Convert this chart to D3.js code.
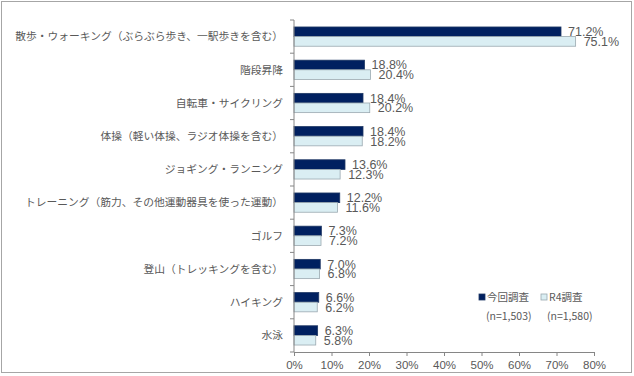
<!DOCTYPE html>
<html>
<head>
<meta charset="utf-8">
<script src="https://d3js.org/d3.v7.min.js"></script>
<style>
  body { margin: 0; background: #fff; }
  text { font-family: "Noto Sans CJK JP", sans-serif; fill: #595959; }
</style>
</head>
<body>
<div id="chart"></div>
<script>
// categories and values (%)
const categories = [
  "散歩・ウォーキング（ぶらぶら歩き、一駅歩きを含む）",
  "階段昇降",
  "自転車・サイクリング",
  "体操（軽い体操、ラジオ体操を含む）",
  "ジョギング・ランニング",
  "トレーニング（筋力、その他運動器具を使った運動）",
  "ゴルフ",
  "登山（トレッキングを含む）",
  "ハイキング",
  "水泳"
];
const current = [71.2, 18.8, 18.4, 18.4, 13.6, 12.2, 7.3, 7.0, 6.6, 6.3];
const r4 = [75.1, 20.4, 20.2, 18.2, 12.3, 11.6, 7.2, 6.8, 6.2, 5.8];
const series = ["今回調査", "R4調査"];
const sampleSizes = ["(n=1,503)", "(n=1,580)"];
const xTicks = [0, 10, 20, 30, 40, 50, 60, 70, 80];

const W = 634, H = 376;
const plotL = 294, plotR = 594, plotT = 20, plotB = 352;
const colors = ["#002060", "#DAEEF3"];

const svg = d3.select("#chart").append("svg")
  .attr("width", W).attr("height", H);

// outer frame
svg.append("rect")
  .attr("x", 1.5).attr("y", 1.5)
  .attr("width", 630).attr("height", 371)
  .attr("fill", "#fff").attr("stroke", "#a6a6a6").attr("stroke-width", 1);

const x = d3.scaleLinear().domain([0, 80]).range([plotL, plotR]);
const y = d3.scaleBand().domain(categories).range([plotT, plotB]).paddingInner(0.42).paddingOuter(0.21);

const rows = categories.map((c, i) => ({ c, v: [current[i], r4[i]] }));
const barH = y.bandwidth() / 2;

// bars
const g = svg.append("g");
rows.forEach(d => {
  d.v.forEach((v, j) => {
    g.append("rect")
      .attr("x", x(0))
      .attr("y", y(d.c) + j * barH)
      .attr("width", x(v) - x(0))
      .attr("height", barH)
      .attr("fill", colors[j])
      .attr("stroke", j === 0 ? "#1f3864" : "#9aa8b0")
      .attr("stroke-width", 0.8);
    g.append("text")
      .attr("x", x(v) + (j === 0 ? 7 : 8))
      .attr("y", y(d.c) + j * barH + barH / 2)
      .attr("dy", "0.36em")
      .style("font-family", "'Liberation Sans', sans-serif")
      .style("font-size", "12.5px")
      .text(v.toFixed(1) + "%");
  });
});

// x axis
const xAxis = svg.append("g")
  .attr("transform", `translate(0,${plotB})`)
  .call(d3.axisBottom(x).tickValues(xTicks).tickFormat(d => d + "%").tickSize(4).tickSizeOuter(0));
xAxis.select(".domain").attr("stroke", "#868686");
xAxis.selectAll(".tick line").attr("stroke", "#868686");
xAxis.selectAll(".tick text")
  .attr("y", 9)
  .style("font-family", "'Liberation Sans', sans-serif")
  .style("font-size", "11.5px")
  .attr("fill", "#595959");

// y axis with category boundary ticks
const yAxisG = svg.append("g");
yAxisG.append("line")
  .attr("x1", plotL).attr("x2", plotL)
  .attr("y1", plotT).attr("y2", plotB)
  .attr("stroke", "#868686");
d3.range(categories.length + 1).forEach(i => {
  const yy = plotT + i * (plotB - plotT) / categories.length;
  yAxisG.append("line")
    .attr("x1", plotL - 4).attr("x2", plotL)
    .attr("y1", yy).attr("y2", yy)
    .attr("stroke", "#868686");
});
categories.forEach(c => {
  yAxisG.append("text")
    .attr("x", 283)
    .attr("y", y(c) + y.bandwidth() / 2)
    .attr("dy", "0.35em")
    .attr("text-anchor", "end")
    .style("font-size", "10.75px")
    .text(c);
});

// legend
const legend = svg.append("g");
const lx = [479, 541];
series.forEach((s, i) => {
  legend.append("rect")
    .attr("x", lx[i]).attr("y", 294)
    .attr("width", 6).attr("height", 6)
    .attr("fill", colors[i])
    .attr("stroke", i === 0 ? "#1f3864" : "#9aa8b0")
    .attr("stroke-width", 0.8);
  legend.append("text")
    .attr("x", lx[i] + 8).attr("y", 297)
    .attr("dy", "0.36em")
    .style("font-size", "10.5px")
    .text(s);
  legend.append("text")
    .attr("x", [486, 547][i]).attr("y", 316)
    .attr("dy", "0.36em")
    .style("font-size", "10.5px")
    .text(sampleSizes[i]);
});
</script>
</body>
</html>
